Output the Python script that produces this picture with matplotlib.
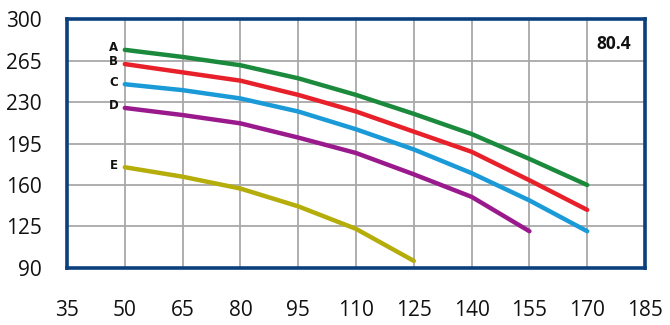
import matplotlib
matplotlib.use("Agg")
import matplotlib.pyplot as plt

x_ticks = [35, 50, 65, 80, 95, 110, 125, 140, 155, 170, 185]
y_ticks = [90, 125, 160, 195, 230, 265, 300]

x_abcd = [50, 65, 80, 95, 110, 125, 140, 155, 170]
curve_a = [274, 268, 261, 250, 236, 220, 203, 182, 160]
curve_b = [262, 255, 248, 236, 222, 205, 188, 164, 139]
curve_c = [245, 240, 233, 222, 207, 190, 170, 147, 121]
x_d = [50, 65, 80, 95, 110, 125, 140, 155]
curve_d = [225, 219, 212, 200, 187, 169, 150, 121]
x_e = [50, 65, 80, 95, 110, 125]
curve_e = [175, 167, 157, 142, 123, 96]

labels = ["A", "B", "C", "D", "E"]
colors = ["#1b8a3c", "#e8202a", "#1b9ad8", "#9a1a8e", "#b4ad0a"]
series = [(x_abcd, curve_a), (x_abcd, curve_b), (x_abcd, curve_c), (x_d, curve_d), (x_e, curve_e)]
title_text = "80.4"

plt.rcParams['font.family'] = ['Open Sans', 'DejaVu Sans']

fig = plt.figure(figsize=(6.7, 3.25), dpi=100)
ax = fig.add_axes([0.1, 0.1754, 0.8627, 0.7661])
ax.set_xlim(35, 185)
ax.set_ylim(90, 300)
ax.set_xticks(x_ticks)
ax.set_yticks(y_ticks)
ax.grid(True, color="#a8a8a8", linewidth=1.3)
ax.set_axisbelow(True)
for s in ax.spines.values():
    s.set_color("#0c3f7e")
    s.set_linewidth(2.6)
ax.tick_params(length=0, labelsize=15, colors="#111111")
ax.tick_params(axis='y', pad=18)
ax.tick_params(axis='x', pad=23)

for (xs, ys), c, lab in zip(series, colors, labels):
    ax.plot(xs, ys, color=c, linewidth=3.2, solid_capstyle='round', zorder=3)
    ax.annotate(lab, (xs[0], ys[0]), xytext=(-8, 1.5), textcoords='offset points',
                ha='center', va='center', fontsize=8.5, fontweight='bold',
                family=['DejaVu Sans'], color="#111111")

ax.text(0.975, 0.9, title_text, transform=ax.transAxes, ha='right', va='center',
        fontsize=12.5, fontweight='bold', color="#111111")

fig.savefig("out.png", dpi=100)
